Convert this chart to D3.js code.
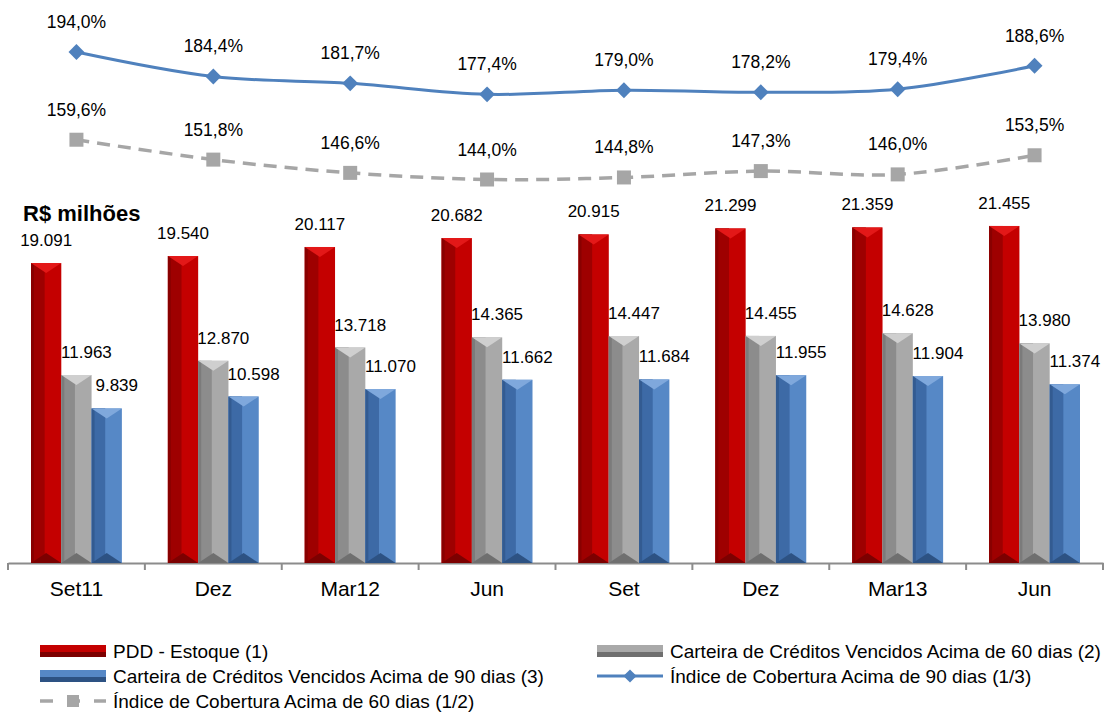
<!DOCTYPE html>
<html>
<head>
<meta charset="utf-8">
<script src="https://cdn.jsdelivr.net/npm/d3@7"></script>
<style>
  body { margin: 0; background: #fff; }
  svg { display: block; font-family: Arial, "Liberation Sans", sans-serif; }
</style>
</head>
<body>
<svg id="chart" width="1108" height="713"></svg>
<script>
  // data
  var categories = ['Set11', 'Dez', 'Mar12', 'Jun', 'Set', 'Dez ', 'Mar13', 'Jun '];
  var pdd = [19091, 19540, 20117, 20682, 20915, 21299, 21359, 21455];
  var venc60 = [11963, 12870, 13718, 14365, 14447, 14455, 14628, 13980];
  var venc90 = [9839, 10598, 11070, 11662, 11684, 11955, 11904, 11374];
  var cob90 = [194.0, 184.4, 181.7, 177.4, 179.0, 178.2, 179.4, 188.6];
  var cob60 = [159.6, 151.8, 146.6, 144.0, 144.8, 147.3, 146.0, 153.5];

  var barSeries = [
    {key: 'pdd', values: pdd, name: 'PDD - Estoque (1)',
     c: {main: '#c40000', left: '#9e0000', top: '#e31818', bot: '#7c0000'}},
    {key: 'v60', values: venc60, name: 'Carteira de Créditos Vencidos Acima de 60 dias (2)',
     c: {main: '#a9a9a9', left: '#8c8c8c', top: '#cfcfcf', bot: '#6f6f6f'}},
    {key: 'v90', values: venc90, name: 'Carteira de Créditos Vencidos Acima de 90 dias (3)',
     c: {main: '#5688c6', left: '#3d6aa6', top: '#7fa8dc', bot: '#2d5283'}}
  ];

  var svg = d3.select('#chart');
  var fmtNum = d3.formatLocale({decimal: ',', thousands: '.', grouping: [3], currency: ['R$', '']}).format(',d');
  var fmtPct = function(v){ return v.toFixed(1).replace('.', ',') + '%'; };

  var x = d3.scaleBand().domain(categories).range([8, 1103]);
  var x1 = d3.scaleBand().domain(barSeries.map(function(s){ return s.key; }))
      .range([23, x.bandwidth() - 23]);
  var y = d3.scaleLinear().domain([0, 23000]).range([563, 201.7]);
  var yl = d3.scaleLinear().domain([100, 200]).range([291.7, 36.7]);

  // axis
  var axis = d3.axisBottom(x).tickSize(0).tickPadding(18);
  var ax = svg.append('g').attr('transform', 'translate(0,563)').call(axis);
  ax.select('.domain').attr('stroke', '#8c8c8c').attr('stroke-width', 2);
  ax.selectAll('.tick text').attr('font-size', 21).attr('fill', '#000')
    .attr('font-family', 'Arial, "Liberation Sans", sans-serif');
  var bounds = categories.map(function(c){ return x(c); }).concat([x.range()[1]]);
  ax.selectAll('line.sep').data(bounds).enter().append('line')
    .attr('x1', function(d){ return d; }).attr('x2', function(d){ return d; })
    .attr('y1', 0).attr('y2', 7).attr('stroke', '#8c8c8c').attr('stroke-width', 2);

  // bevelled bars
  function drawBar(g, bx, by, w, h, c) {
    var t = Math.min(10, h / 2);
    g.append('rect').attr('x', bx).attr('y', by).attr('width', w).attr('height', h).attr('fill', c.main);
    g.append('rect').attr('x', bx).attr('y', by).attr('width', w * 0.45).attr('height', h).attr('fill', c.left);
    g.append('rect').attr('x', bx).attr('y', by).attr('width', 3).attr('height', h).attr('fill', c.bot).attr('opacity', 0.6);
    g.append('path').attr('d', 'M' + bx + ',' + by + 'L' + (bx + w) + ',' + by + 'L' + (bx + w / 2) + ',' + (by + t) + 'Z')
      .attr('fill', c.top);
    g.append('path').attr('d', 'M' + bx + ',' + (by + h) + 'L' + (bx + w) + ',' + (by + h) + 'L' + (bx + w / 2) + ',' + (by + h - t) + 'Z')
      .attr('fill', c.bot);
  }

  var groups = svg.append('g').selectAll('g').data(categories).enter().append('g')
    .attr('transform', function(d){ return 'translate(' + x(d) + ',0)'; });

  groups.each(function(cat, i){
    var g = d3.select(this);
    barSeries.forEach(function(s, j){
      var v = s.values[i];
      var bx = x1(s.key), w = x1.bandwidth();
      drawBar(g, bx, y(v), w, y(0) - y(v), s.c);
      g.append('text')
        .attr('x', bx + w / 2 + (j === 0 ? 0 : 10))
        .attr('y', y(v) - 17)
        .attr('text-anchor', 'middle')
        .attr('font-size', 17)
        .text(fmtNum(v));
    });
  });

  // lines
  var cx = function(d, i){ return x(categories[i]) + x.bandwidth() / 2; };
  var line = d3.line().x(cx).y(function(d){ return yl(d); }).curve(d3.curveCatmullRom);

  svg.append('path').datum(cob60).attr('d', line).attr('fill', 'none')
    .attr('stroke', '#a6a6a6').attr('stroke-width', 3.5).attr('stroke-dasharray', '13,8');
  svg.append('g').selectAll('rect').data(cob60).enter().append('rect')
    .attr('x', function(d, i){ return cx(d, i) - 7; }).attr('y', function(d){ return yl(d) - 7; })
    .attr('width', 14).attr('height', 14).attr('fill', '#a6a6a6');

  svg.append('path').datum(cob90).attr('d', line).attr('fill', 'none')
    .attr('stroke', '#4f81bd').attr('stroke-width', 3);
  svg.append('g').selectAll('path').data(cob90).enter().append('path')
    .attr('d', d3.symbol().type(d3.symbolDiamond2).size(160))
    .attr('transform', function(d, i){ return 'translate(' + cx(d, i) + ',' + yl(d) + ')'; })
    .attr('fill', '#4f81bd');

  [cob90, cob60].forEach(function(arr){
    svg.append('g').selectAll('text').data(arr).enter().append('text')
      .attr('x', cx).attr('y', function(d){ return yl(d) - 24; })
      .attr('text-anchor', 'middle').attr('font-size', 17.5)
      .text(fmtPct);
  });

  svg.append('text').attr('x', 23).attr('y', 221).attr('font-size', 22)
    .attr('font-weight', 'bold').text('R$ milhões');

  // legend
  var leg = svg.append('g').attr('font-size', 19);
  function legBar(lx, ly, c, label) {
    leg.append('rect').attr('x', lx).attr('y', ly - 6).attr('width', 66).attr('height', 12).attr('fill', c.main);
    leg.append('rect').attr('x', lx).attr('y', ly + 1).attr('width', 66).attr('height', 5).attr('fill', c.bot);
    leg.append('text').attr('x', lx + 73).attr('y', ly + 7).text(label);
  }
  legBar(40, 651, barSeries[0].c, barSeries[0].name);
  legBar(597, 651, barSeries[1].c, barSeries[1].name);
  legBar(40, 676, barSeries[2].c, barSeries[2].name);

  leg.append('line').attr('x1', 597).attr('x2', 663).attr('y1', 676).attr('y2', 676)
    .attr('stroke', '#4f81bd').attr('stroke-width', 3);
  leg.append('path').attr('d', d3.symbol().type(d3.symbolDiamond2).size(110))
    .attr('transform', 'translate(630,676)').attr('fill', '#4f81bd');
  leg.append('text').attr('x', 670).attr('y', 683).text('Índice de Cobertura Acima de 90 dias (1/3)');

  leg.append('line').attr('x1', 40).attr('x2', 106).attr('y1', 701).attr('y2', 701)
    .attr('stroke', '#a6a6a6').attr('stroke-width', 3.5).attr('stroke-dasharray', '13,14');
  leg.append('rect').attr('x', 67).attr('y', 695).attr('width', 12).attr('height', 12).attr('fill', '#a6a6a6');
  leg.append('text').attr('x', 113).attr('y', 708).text('Índice de Cobertura Acima de 60 dias (1/2)');
</script>
</body>
</html>
